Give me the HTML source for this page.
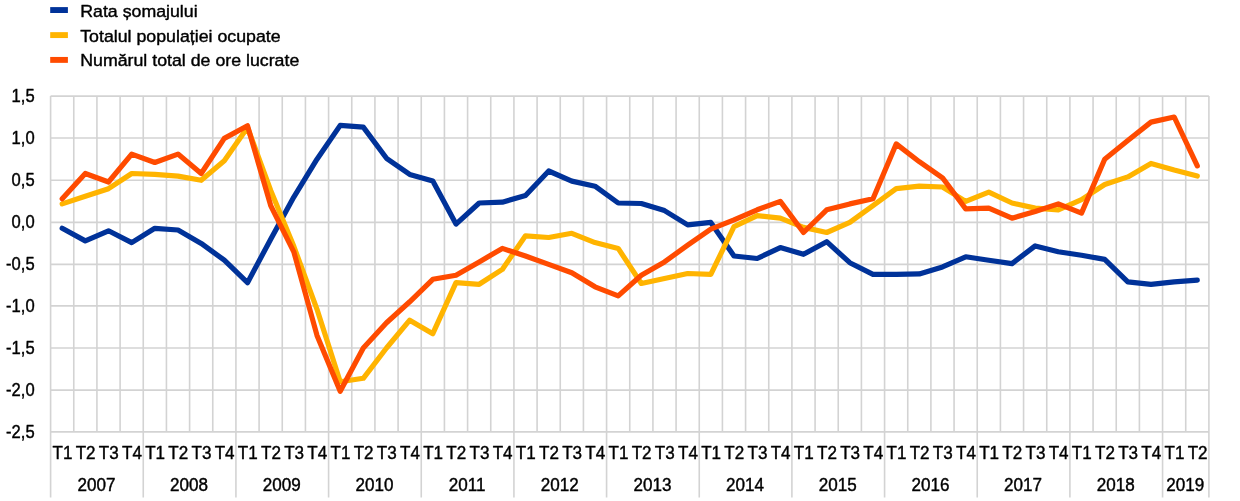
<!DOCTYPE html><html><head><meta charset="utf-8"><title>Chart</title><style>html,body{margin:0;padding:0;background:#fff}svg{display:block}text{font-family:"Liberation Sans",Arial,sans-serif;fill:#000}</style></head><body>
<svg width="1240" height="501" viewBox="0 0 1240 501">
<rect width="1240" height="501" fill="#fff"/>
<path d="M50.60 96.10H1208.90 M50.60 138.00H1208.90 M50.60 180.30H1208.90 M50.60 222.40H1208.90 M50.60 264.40H1208.90 M50.60 305.90H1208.90 M50.60 348.00H1208.90 M50.60 390.10H1208.90 M50.60 431.90H1208.90 M50.60 96.10V497.50 M73.77 96.10V431.90 M96.93 96.10V431.90 M120.10 96.10V431.90 M143.26 96.10V497.50 M166.43 96.10V431.90 M189.60 96.10V431.90 M212.76 96.10V431.90 M235.93 96.10V497.50 M259.09 96.10V431.90 M282.26 96.10V431.90 M305.43 96.10V431.90 M328.59 96.10V497.50 M351.76 96.10V431.90 M374.92 96.10V431.90 M398.09 96.10V431.90 M421.26 96.10V497.50 M444.42 96.10V431.90 M467.59 96.10V431.90 M490.75 96.10V431.90 M513.92 96.10V497.50 M537.09 96.10V431.90 M560.25 96.10V431.90 M583.42 96.10V431.90 M606.58 96.10V497.50 M629.75 96.10V431.90 M652.92 96.10V431.90 M676.08 96.10V431.90 M699.25 96.10V497.50 M722.41 96.10V431.90 M745.58 96.10V431.90 M768.75 96.10V431.90 M791.91 96.10V497.50 M815.08 96.10V431.90 M838.24 96.10V431.90 M861.41 96.10V431.90 M884.58 96.10V497.50 M907.74 96.10V431.90 M930.91 96.10V431.90 M954.07 96.10V431.90 M977.24 96.10V497.50 M1000.41 96.10V431.90 M1023.57 96.10V431.90 M1046.74 96.10V431.90 M1069.90 96.10V497.50 M1093.07 96.10V431.90 M1116.24 96.10V431.90 M1139.40 96.10V431.90 M1162.57 96.10V497.50 M1185.73 96.10V431.90 M1208.90 96.10V497.50" stroke="#d3d3d3" stroke-width="1.6" fill="none"/>
<polyline points="62.2,228.3 85.3,240.9 108.5,230.8 131.7,242.6 154.8,228.3 178.0,230.0 201.2,243.4 224.3,260.2 247.5,282.7 270.7,239.2 293.8,197.1 317.0,159.2 340.2,125.4 363.3,127.1 386.5,158.3 409.7,174.4 432.8,181.1 456.0,224.1 479.2,203.0 502.3,202.2 525.5,195.5 548.7,171.0 571.8,181.1 595.0,186.2 618.2,203.0 641.3,203.5 664.5,210.6 687.7,224.9 710.8,222.4 734.0,256.0 757.2,258.5 780.3,247.6 803.5,254.3 826.7,241.7 849.8,262.7 873.0,274.4 896.2,274.4 919.3,273.9 942.5,266.9 965.7,256.8 988.8,260.2 1012.0,263.6 1035.2,245.9 1058.3,251.8 1081.5,255.2 1104.7,259.4 1127.8,281.8 1151.0,284.3 1174.2,281.8 1197.3,280.2" fill="none" stroke="#003299" stroke-width="5.2" stroke-linejoin="round" stroke-linecap="round"/>
<polyline points="62.2,203.9 85.3,196.3 108.5,188.7 131.7,173.5 154.8,174.4 178.0,176.1 201.2,180.3 224.3,160.8 247.5,127.5 270.7,190.4 293.8,246.3 317.0,309.3 340.2,381.7 363.3,378.3 386.5,348.0 409.7,320.2 432.8,333.7 456.0,282.7 479.2,284.3 502.3,269.4 525.5,235.8 548.7,237.5 571.8,233.3 595.0,242.6 618.2,248.4 641.3,283.5 664.5,278.5 687.7,273.5 710.8,274.4 734.0,226.6 757.2,215.7 780.3,218.2 803.5,227.4 826.7,232.5 849.8,222.4 873.0,205.6 896.2,188.7 919.3,186.2 942.5,187.0 965.7,201.4 988.8,192.1 1012.0,203.0 1035.2,208.1 1058.3,209.8 1081.5,199.7 1104.7,184.5 1127.8,176.9 1151.0,163.4 1174.2,170.1 1197.3,176.1" fill="none" stroke="#FFB400" stroke-width="5.2" stroke-linejoin="round" stroke-linecap="round"/>
<polyline points="62.2,198.8 85.3,173.5 108.5,182.0 131.7,154.1 154.8,162.5 178.0,154.1 201.2,173.5 224.3,138.4 247.5,125.8 270.7,205.6 293.8,251.8 317.0,335.4 340.2,391.3 363.3,348.0 386.5,322.7 409.7,301.8 432.8,279.3 456.0,275.2 479.2,261.9 502.3,248.4 525.5,256.0 548.7,264.4 571.8,272.7 595.0,286.8 618.2,295.9 641.3,275.2 664.5,261.9 687.7,245.1 710.8,229.1 734.0,219.9 757.2,209.8 780.3,201.4 803.5,232.5 826.7,209.8 849.8,203.9 873.0,198.8 896.2,143.9 919.3,161.7 942.5,177.8 965.7,208.9 988.8,208.1 1012.0,218.2 1035.2,211.5 1058.3,203.9 1081.5,213.1 1104.7,159.2 1127.8,140.5 1151.0,122.1 1174.2,117.0 1197.3,165.9" fill="none" stroke="#FF4B00" stroke-width="5.2" stroke-linejoin="round" stroke-linecap="round"/>
<g font-size="17" stroke="#000" stroke-width="0.4" stroke-linejoin="round">
<text transform="translate(34.6 101.7) scale(0.975 1.06)" text-anchor="end">1,5</text>
<text transform="translate(34.6 143.6) scale(0.975 1.06)" text-anchor="end">1,0</text>
<text transform="translate(34.6 185.9) scale(0.975 1.06)" text-anchor="end">0,5</text>
<text transform="translate(34.6 228.0) scale(0.975 1.06)" text-anchor="end">0,0</text>
<text transform="translate(34.6 270.0) scale(0.975 1.06)" text-anchor="end">-0,5</text>
<text transform="translate(34.6 311.5) scale(0.975 1.06)" text-anchor="end">-1,0</text>
<text transform="translate(34.6 353.6) scale(0.975 1.06)" text-anchor="end">-1,5</text>
<text transform="translate(34.6 395.7) scale(0.975 1.06)" text-anchor="end">-2,0</text>
<text transform="translate(34.6 437.5) scale(0.975 1.06)" text-anchor="end">-2,5</text>
<text transform="translate(62.5 458.8) scale(1.005 1.06)" text-anchor="middle">T1</text>
<text transform="translate(85.6 458.8) scale(1.005 1.06)" text-anchor="middle">T2</text>
<text transform="translate(108.8 458.8) scale(1.005 1.06)" text-anchor="middle">T3</text>
<text transform="translate(132.0 458.8) scale(1.005 1.06)" text-anchor="middle">T4</text>
<text transform="translate(155.1 458.8) scale(1.005 1.06)" text-anchor="middle">T1</text>
<text transform="translate(178.3 458.8) scale(1.005 1.06)" text-anchor="middle">T2</text>
<text transform="translate(201.5 458.8) scale(1.005 1.06)" text-anchor="middle">T3</text>
<text transform="translate(224.6 458.8) scale(1.005 1.06)" text-anchor="middle">T4</text>
<text transform="translate(247.8 458.8) scale(1.005 1.06)" text-anchor="middle">T1</text>
<text transform="translate(271.0 458.8) scale(1.005 1.06)" text-anchor="middle">T2</text>
<text transform="translate(294.1 458.8) scale(1.005 1.06)" text-anchor="middle">T3</text>
<text transform="translate(317.3 458.8) scale(1.005 1.06)" text-anchor="middle">T4</text>
<text transform="translate(340.5 458.8) scale(1.005 1.06)" text-anchor="middle">T1</text>
<text transform="translate(363.6 458.8) scale(1.005 1.06)" text-anchor="middle">T2</text>
<text transform="translate(386.8 458.8) scale(1.005 1.06)" text-anchor="middle">T3</text>
<text transform="translate(410.0 458.8) scale(1.005 1.06)" text-anchor="middle">T4</text>
<text transform="translate(433.1 458.8) scale(1.005 1.06)" text-anchor="middle">T1</text>
<text transform="translate(456.3 458.8) scale(1.005 1.06)" text-anchor="middle">T2</text>
<text transform="translate(479.5 458.8) scale(1.005 1.06)" text-anchor="middle">T3</text>
<text transform="translate(502.6 458.8) scale(1.005 1.06)" text-anchor="middle">T4</text>
<text transform="translate(525.8 458.8) scale(1.005 1.06)" text-anchor="middle">T1</text>
<text transform="translate(549.0 458.8) scale(1.005 1.06)" text-anchor="middle">T2</text>
<text transform="translate(572.1 458.8) scale(1.005 1.06)" text-anchor="middle">T3</text>
<text transform="translate(595.3 458.8) scale(1.005 1.06)" text-anchor="middle">T4</text>
<text transform="translate(618.5 458.8) scale(1.005 1.06)" text-anchor="middle">T1</text>
<text transform="translate(641.6 458.8) scale(1.005 1.06)" text-anchor="middle">T2</text>
<text transform="translate(664.8 458.8) scale(1.005 1.06)" text-anchor="middle">T3</text>
<text transform="translate(688.0 458.8) scale(1.005 1.06)" text-anchor="middle">T4</text>
<text transform="translate(711.1 458.8) scale(1.005 1.06)" text-anchor="middle">T1</text>
<text transform="translate(734.3 458.8) scale(1.005 1.06)" text-anchor="middle">T2</text>
<text transform="translate(757.5 458.8) scale(1.005 1.06)" text-anchor="middle">T3</text>
<text transform="translate(780.6 458.8) scale(1.005 1.06)" text-anchor="middle">T4</text>
<text transform="translate(803.8 458.8) scale(1.005 1.06)" text-anchor="middle">T1</text>
<text transform="translate(827.0 458.8) scale(1.005 1.06)" text-anchor="middle">T2</text>
<text transform="translate(850.1 458.8) scale(1.005 1.06)" text-anchor="middle">T3</text>
<text transform="translate(873.3 458.8) scale(1.005 1.06)" text-anchor="middle">T4</text>
<text transform="translate(896.5 458.8) scale(1.005 1.06)" text-anchor="middle">T1</text>
<text transform="translate(919.6 458.8) scale(1.005 1.06)" text-anchor="middle">T2</text>
<text transform="translate(942.8 458.8) scale(1.005 1.06)" text-anchor="middle">T3</text>
<text transform="translate(966.0 458.8) scale(1.005 1.06)" text-anchor="middle">T4</text>
<text transform="translate(989.1 458.8) scale(1.005 1.06)" text-anchor="middle">T1</text>
<text transform="translate(1012.3 458.8) scale(1.005 1.06)" text-anchor="middle">T2</text>
<text transform="translate(1035.5 458.8) scale(1.005 1.06)" text-anchor="middle">T3</text>
<text transform="translate(1058.6 458.8) scale(1.005 1.06)" text-anchor="middle">T4</text>
<text transform="translate(1081.8 458.8) scale(1.005 1.06)" text-anchor="middle">T1</text>
<text transform="translate(1105.0 458.8) scale(1.005 1.06)" text-anchor="middle">T2</text>
<text transform="translate(1128.1 458.8) scale(1.005 1.06)" text-anchor="middle">T3</text>
<text transform="translate(1151.3 458.8) scale(1.005 1.06)" text-anchor="middle">T4</text>
<text transform="translate(1174.5 458.8) scale(1.005 1.06)" text-anchor="middle">T1</text>
<text transform="translate(1197.6 458.8) scale(1.005 1.06)" text-anchor="middle">T2</text>
<text transform="translate(96.4 490.6) scale(1.005 1.06)" text-anchor="middle">2007</text>
<text transform="translate(189.1 490.6) scale(1.005 1.06)" text-anchor="middle">2008</text>
<text transform="translate(281.8 490.6) scale(1.005 1.06)" text-anchor="middle">2009</text>
<text transform="translate(374.4 490.6) scale(1.005 1.06)" text-anchor="middle">2010</text>
<text transform="translate(467.1 490.6) scale(1.005 1.06)" text-anchor="middle">2011</text>
<text transform="translate(559.8 490.6) scale(1.005 1.06)" text-anchor="middle">2012</text>
<text transform="translate(652.4 490.6) scale(1.005 1.06)" text-anchor="middle">2013</text>
<text transform="translate(745.1 490.6) scale(1.005 1.06)" text-anchor="middle">2014</text>
<text transform="translate(837.7 490.6) scale(1.005 1.06)" text-anchor="middle">2015</text>
<text transform="translate(930.4 490.6) scale(1.005 1.06)" text-anchor="middle">2016</text>
<text transform="translate(1023.1 490.6) scale(1.005 1.06)" text-anchor="middle">2017</text>
<text transform="translate(1115.7 490.6) scale(1.005 1.06)" text-anchor="middle">2018</text>
<text transform="translate(1185.2 490.6) scale(1.005 1.06)" text-anchor="middle">2019</text>
<rect x="50.2" y="7.10" width="17.7" height="5.9" fill="#003299" stroke="none"/>
<text transform="translate(80.2 16.5) scale(1.045 1.0)" text-anchor="start">Rata șomajului</text>
<rect x="50.2" y="32.15" width="17.7" height="5.9" fill="#FFB400" stroke="none"/>
<text transform="translate(80.2 41.6) scale(1.045 1.0)" text-anchor="start">Totalul populației ocupate</text>
<rect x="50.2" y="56.95" width="17.7" height="5.9" fill="#FF4B00" stroke="none"/>
<text transform="translate(80.2 66.3) scale(1.045 1.0)" text-anchor="start">Numărul total de ore lucrate</text>
</g>
</svg></body></html>
